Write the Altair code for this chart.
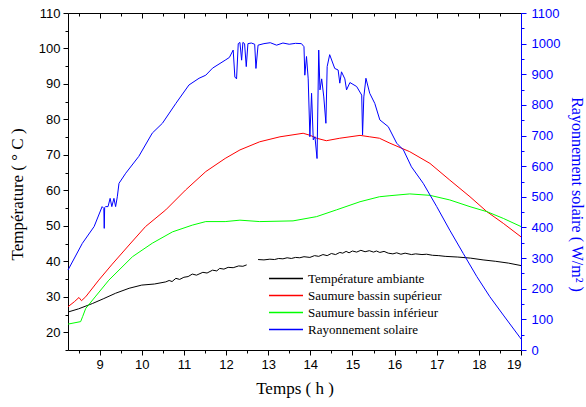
import altair as alt
import pandas as pd

# ---- data ----
names = ["Température ambiante", "Saumure bassin supérieur",
         "Saumure bassin inférieur", "Rayonnement solaire"]
colors = ["#000000", "#ff0000", "#00ff00", "#0000ff"]

amb_h1 = [8.25, 8.5, 8.83, 9.1, 9.38, 9.7, 10.0, 10.3, 10.57, 10.65, 10.72, 10.81,
          10.9, 11.0, 11.1, 11.2, 11.3, 11.45, 11.55, 11.68, 11.78, 11.85, 11.95,
          12.05, 12.17, 12.3, 12.4, 12.49]
amb_v1 = [25.7, 26.6, 28.1, 29.5, 31.0, 32.4, 33.3, 33.6, 34.2, 34.6, 34.3, 35.2,
          34.9, 35.5, 35.7, 36.4, 36.1, 36.9, 36.7, 37.5, 37.3, 38.0, 37.8,
          38.3, 38.2, 38.7, 38.6, 39.0]
amb_h2 = [12.76, 12.9, 13.04, 13.15, 13.25, 13.35, 13.45, 13.55, 13.65, 13.75, 13.85,
          13.99, 14.1, 14.2, 14.3, 14.4, 14.5, 14.6, 14.7, 14.77, 14.85, 14.92, 15.0,
          15.1, 15.2, 15.3, 15.4, 15.5, 15.57, 15.65, 15.75, 15.85, 15.96, 16.05,
          16.15, 16.25, 16.4, 16.5, 16.65, 16.76, 16.9, 17.05, 17.2, 17.5, 17.8,
          18.1, 18.4, 18.7, 19.0]
amb_v2 = [40.5, 40.4, 40.6, 40.5, 40.8, 40.7, 41.0, 40.8, 41.1, 41.0, 41.3,
          41.1, 41.6, 41.4, 41.9, 41.6, 42.2, 41.9, 42.5, 42.3, 42.8, 42.4, 42.9,
          42.6, 43.1, 42.7, 43.0, 42.6, 42.9, 42.5, 42.8, 42.3, 42.1, 42.4,
          42.0, 42.3, 41.9, 42.1, 41.9, 42.0, 41.7, 41.6, 41.4, 41.2, 40.9,
          40.4, 40.0, 39.5, 38.8]

sup_h = [8.25, 8.4, 8.51, 8.57, 8.67, 8.98, 9.30, 9.70, 10.09, 10.57, 11.04, 11.52,
         11.98, 12.33, 12.8, 13.28, 13.83, 14.0, 14.15, 14.38, 14.7, 15.18, 15.41,
         15.64, 15.89, 16.36, 16.84, 17.31, 17.79, 18.19, 18.58, 19.0]
sup_v = [27.2, 28.6, 29.8, 28.9, 30.0, 34.7, 39.2, 44.6, 49.8, 54.5, 60.1, 65.3,
         69.0, 71.4, 73.7, 75.1, 76.1, 75.5, 74.7, 74.0, 74.7, 75.5, 75.1,
         74.7, 73.3, 70.9, 67.6, 62.9, 58.2, 54.0, 50.7, 46.9]

inf_h = [8.25, 8.55, 8.6, 8.67, 8.91, 9.22, 9.78, 10.25, 10.73, 11.2, 11.52, 11.98,
         12.33, 12.8, 13.59, 14.15, 14.62, 15.18, 15.64, 15.89, 16.36, 16.84, 17.31,
         17.79, 18.19, 18.58, 19.0]
inf_v = [22.3, 23.0, 24.5, 26.7, 30.2, 34.7, 41.3, 45.1, 48.3, 50.2, 51.2, 51.2,
         51.6, 51.2, 51.4, 52.6, 54.5, 56.8, 58.2, 58.5, 59.0, 58.6, 57.3,
         55.4, 54.0, 52.1, 49.8]

sol_h = [8.25, 8.59, 8.87, 9.06, 9.10, 9.11, 9.12, 9.14, 9.20, 9.25, 9.29, 9.34, 9.38,
         9.42, 9.46, 9.62, 9.93, 10.25, 10.49, 10.81, 11.12, 11.36, 11.52, 11.68,
         11.98, 12.08, 12.17, 12.21, 12.25, 12.29, 12.33, 12.37, 12.40, 12.44, 12.48,
         12.52, 12.60, 12.68, 12.71, 12.76, 12.9, 13.05, 13.2, 13.35, 13.5, 13.65,
         13.79, 13.85, 13.87, 13.91, 13.95, 13.99, 14.03, 14.07, 14.11, 14.16, 14.20,
         14.23, 14.27, 14.32, 14.37, 14.40, 14.46, 14.58, 14.66, 14.70, 14.74, 14.82,
         14.86, 14.94, 15.10, 15.22, 15.24, 15.27, 15.32, 15.41, 15.53, 15.65, 15.85,
         16.05, 16.21, 16.40, 16.68, 17.0, 17.31, 17.63, 17.95, 18.26, 18.58, 18.98,
         19.0]
sol_v = [261, 348, 403, 468, 462, 397, 465, 468, 468, 495, 468, 495, 468,
         500, 544, 577, 632, 708, 740, 805, 865, 887, 897, 920,
         946, 955, 979, 891, 885, 1000, 1004, 946, 1004, 1000, 925,
         1000, 1002, 998, 919, 995, 1000, 1003, 995, 1002, 998, 1001,
         1000, 990, 897, 958, 885, 696, 838, 686, 696, 625, 979,
         849, 885, 826, 740, 925, 964, 919, 914, 871, 908, 885,
         849, 873, 860, 832, 702, 826, 887, 838, 805, 751, 729,
         675, 653, 598, 544, 468, 391, 315, 240, 174, 114, 40,
         36]


def frame(name, hs, vs, seg=0):
    return pd.DataFrame({"h": hs, "v": vs, "series": name, "seg": seg})


temp_df = pd.concat([
    frame(names[0], amb_h1, amb_v1, 0),
    frame(names[0], amb_h2, amb_v2, 1),
    frame(names[1], sup_h, sup_v),
    frame(names[2], inf_h, inf_v),
])
sol_df = frame(names[3], sol_h, sol_v)

x_vals = [8.5 + 0.5 * i for i in range(22)]
y_vals = [15 + 5 * i for i in range(20)]
w_vals = [50 * i for i in range(23)]

color_scale = alt.Scale(domain=names, range=colors)
x_scale = alt.Scale(domain=[8.25, 19], nice=False, zero=False)

SANS = "Liberation Sans"
SERIF = "Liberation Serif"
X_TICK = {"condition": {"test": "datum.value % 1 === 0", "value": 5}, "value": 3}

temp = alt.Chart(temp_df).mark_line(strokeWidth=1).encode(
    x=alt.X("h:Q", scale=x_scale, axis=alt.Axis(
        orient="bottom", values=x_vals,
        labelExpr="datum.value % 1 === 0 ? format(datum.value, 'd') : ''",
        tickSize=X_TICK,
        grid=False, domainColor="#000000", tickColor="#000000",
        labelColor="#000000", labelFont=SANS, labelFontSize=13, labelPadding=3,
        title="Temps ( h )", titleFont=SERIF, titleFontSize=17,
        titleFontWeight="normal", titleColor="#000000", titlePadding=9)),
    y=alt.Y("v:Q", scale=alt.Scale(domain=[15, 110], nice=False, zero=False),
            axis=alt.Axis(
                orient="left", values=y_vals,
                labelExpr="datum.value % 10 === 0 ? format(datum.value, 'd') : ''",
                tickSize={"condition": {"test": "datum.value % 10 === 0", "value": 5}, "value": 3},
                grid=False, domainColor="#000000", tickColor="#000000",
                labelColor="#000000", labelFont=SANS, labelFontSize=13, labelPadding=3,
                title="Température ( ° C )", titleFont=SERIF, titleFontSize=17,
                titleFontWeight="normal", titleColor="#000000",
                titleX=-51, titleY=181, titleBaseline="middle", titleAngle=-90)),
    color=alt.Color("series:N", scale=color_scale, legend=alt.Legend(
        title=None, orient="none", legendX=200, legendY=257,
        symbolType="stroke", symbolSize=1156, symbolStrokeWidth=1.5,
        labelFont=SERIF, labelFontSize=13, labelColor="#000000",
        labelOffset=4, clipHeight=17, rowPadding=0, padding=0)),
    detail="seg:N",
)

sol = alt.Chart(sol_df).mark_line(strokeWidth=1).encode(
    x=alt.X("h:Q", scale=x_scale, axis=alt.Axis(
        orient="bottom", offset=-337, values=x_vals, labels=False, title=None,
        grid=False, tickSize=X_TICK, domainColor="#000000", tickColor="#000000")),
    y=alt.Y("v:Q", scale=alt.Scale(domain=[0, 1100], nice=False, zero=False),
            axis=alt.Axis(
                orient="right", values=w_vals,
                labelExpr="datum.value % 100 === 0 ? format(datum.value, 'd') : ''",
                tickSize={"condition": {"test": "datum.value % 100 === 0", "value": 5}, "value": 3},
                grid=False, domainColor="#0000ff", tickColor="#0000ff",
                labelColor="#0000ff", labelFont=SANS, labelFontSize=13, labelPadding=5,
                title="Rayonnement solaire ( W/m² )", titleFont=SERIF, titleFontSize=16,
                titleFontWeight="normal", titleColor="#0000ff",
                titleX=55, titleY=181, titleBaseline="middle", titleAngle=90)),
    color=alt.Color("series:N", scale=color_scale, legend=None),
)

chart = alt.layer(temp, sol).resolve_scale(y="independent").resolve_axis(
    x="independent").properties(
    width=453, height=337,
    autosize=alt.AutoSizeParams(type="none"),
    padding={"left": 68, "top": 13, "right": 65, "bottom": 57},
).configure_view(stroke=None).configure(background="#ffffff")

chart.save("out.html", embed_options={"renderer": "svg", "actions": False})
